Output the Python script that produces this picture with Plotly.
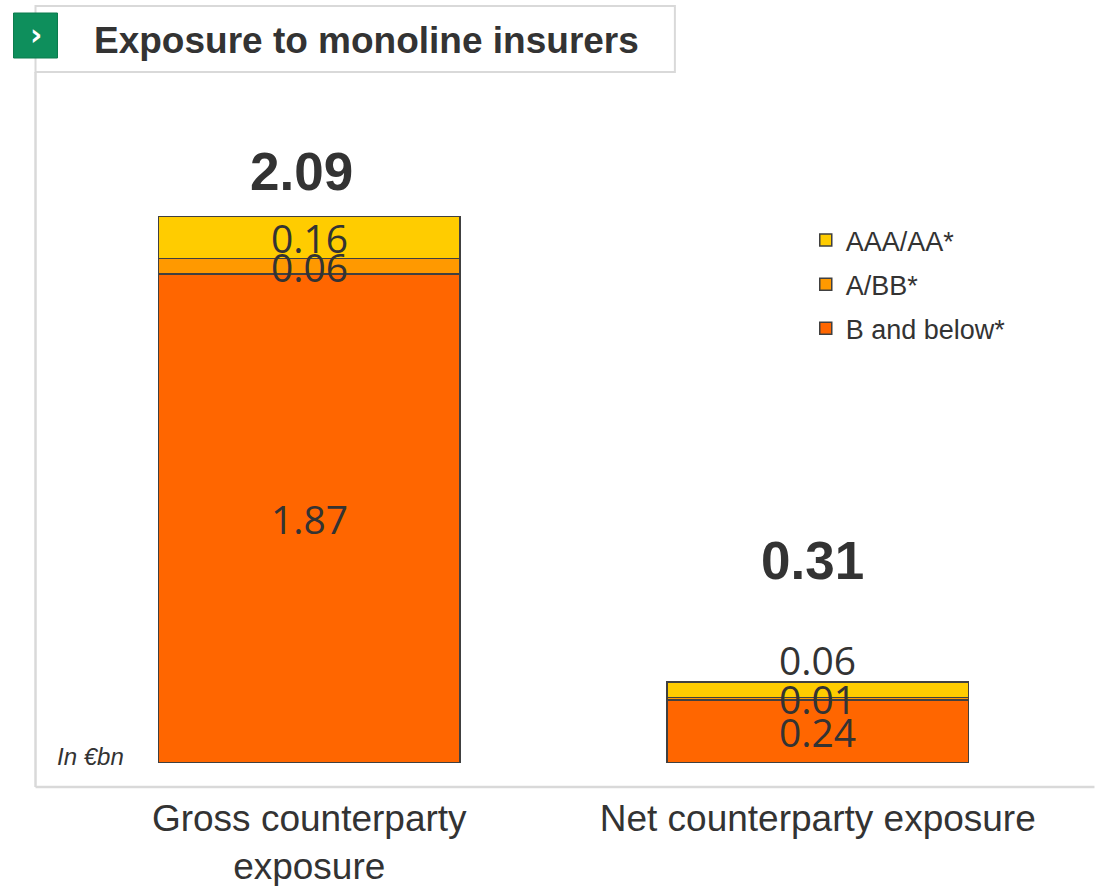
import plotly.graph_objects as go

# ---------------- data ----------------
categories = ["Gross counterparty<br>exposure", "Net counterparty exposure"]
series_names = ["B and below*", "A/BB*", "AAA/AA*"]
b_and_below = [1.87, 0.24]
a_bb = [0.06, 0.01]
aaa_aa = [0.16, 0.06]
totals = [2.09, 0.31]
title_text = "Exposure to monoline insurers"
unit_text = "In €bn"

colors = {"B and below*": "#FF6600", "A/BB*": "#FF9900", "AAA/AA*": "#FFCC00"}
legend_rank = {"AAA/AA*": 1, "A/BB*": 2, "B and below*": 3}
series_values = [b_and_below, a_bb, aaa_aa]

TXT = "#333333"
FRAME = "#d9d9d9"

# plot area geometry (pixels)
FIG_W, FIG_H = 1095, 886
L, R, T, B = 54.5, 1072.5, 100, 763
W, H = R - L, B - T


def px2x(px):
    return (px - L) / W


def px2y(py):
    return (B - py) / H


fig = go.Figure()
for i, (name, vals) in enumerate(zip(series_names, series_values)):
    fig.add_trace(go.Bar(
        x=categories, y=vals, name=name,
        marker=dict(color=colors[name], line=dict(color="#404040", width=1.5)),
        width=0.593, legendgroup=name, legendrank=legend_rank[name],
        hoverinfo="skip",
    ))

annotations = []
# segment labels
label_shift = {(1, 2): 30}
for ci, cat in enumerate(categories):
    base = 0.0
    for si, vals in enumerate(series_values):
        v = vals[ci]
        annotations.append(dict(
            x=cat, y=base + v / 2, xref="x", yref="y",
            text=f"{v:.2f}", showarrow=False, yanchor="middle",
            yshift=label_shift.get((ci, si), 0),
            font=dict(family="Open Sans", size=39, color=TXT),
        ))
        base += v

# totals
total_shift = [(-8, 45), (-5, 121)]
for ci, cat in enumerate(categories):
    annotations.append(dict(
        x=cat, y=totals[ci], xref="x", yref="y",
        text=f"<b>{totals[ci]:.2f}</b>", showarrow=False, yanchor="middle",
        xshift=total_shift[ci][0], yshift=total_shift[ci][1],
        font=dict(family="Liberation Sans", size=53, color=TXT),
    ))

# title, icon chevron, unit
annotations.append(dict(
    x=px2x(92), y=px2y(40), xref="paper", yref="paper",
    text=f"<b>{title_text}</b>", showarrow=False,
    xanchor="left", yanchor="middle",
    font=dict(family="Liberation Sans", size=37, color=TXT),
))
annotations.append(dict(
    x=px2x(35), y=px2y(35), xref="paper", yref="paper",
    text="<b>›</b>", showarrow=False, xanchor="center", yanchor="middle",
    font=dict(family="DejaVu Sans", size=30, color="white"),
))
annotations.append(dict(
    x=px2x(90), y=px2y(756), xref="paper", yref="paper",
    text=f"<i>{unit_text}</i>", showarrow=False, xanchor="center", yanchor="middle",
    font=dict(family="Liberation Sans", size=24, color=TXT),
))

shapes = [
    # title box
    dict(type="rect", xref="paper", yref="paper",
         x0=px2x(35), x1=px2x(675), y0=px2y(6), y1=px2y(72),
         line=dict(color=FRAME, width=2), fillcolor="white", layer="below"),
    # left frame line
    dict(type="line", xref="paper", yref="paper",
         x0=px2x(35), x1=px2x(35), y0=px2y(72), y1=px2y(787),
         line=dict(color=FRAME, width=2.5)),
    # bottom frame line
    dict(type="line", xref="paper", yref="paper",
         x0=px2x(35), x1=px2x(1095), y0=px2y(787), y1=px2y(787),
         line=dict(color=FRAME, width=2.5)),
    # green icon
    dict(type="rect", xref="paper", yref="paper",
         x0=px2x(13), x1=px2x(57), y0=px2y(13), y1=px2y(58),
         line=dict(color="#0a7a4c", width=1), fillcolor="#0e8f5c"),
]

fig.update_layout(
    width=FIG_W, height=FIG_H,
    margin=dict(l=L, r=FIG_W - R, t=T, b=FIG_H - B, pad=0, autoexpand=False),
    paper_bgcolor="white", plot_bgcolor="white",
    barmode="stack",
    showlegend=True,
    legend=dict(
        x=px2x(806), y=px2y(216), xanchor="left", yanchor="top",
        traceorder="grouped", tracegroupgap=6,
        font=dict(family="Liberation Sans", size=27, color=TXT),
        bgcolor="rgba(0,0,0,0)",
    ),
    xaxis=dict(
        range=[-0.5, 1.5], showgrid=False, zeroline=False, showline=False,
        ticks="", ticklabelstandoff=30, automargin=False,
        tickfont=dict(family="Liberation Sans", size=37, color=TXT),
    ),
    yaxis=dict(
        range=[0, H / 261.5], showgrid=False, zeroline=False, showline=False,
        showticklabels=False, ticks="", automargin=False,
    ),
    annotations=annotations,
    shapes=shapes,
)

fig.write_html("out.html", config={"displayModeBar": False},
               post_script="document.body.style.margin='0';")
